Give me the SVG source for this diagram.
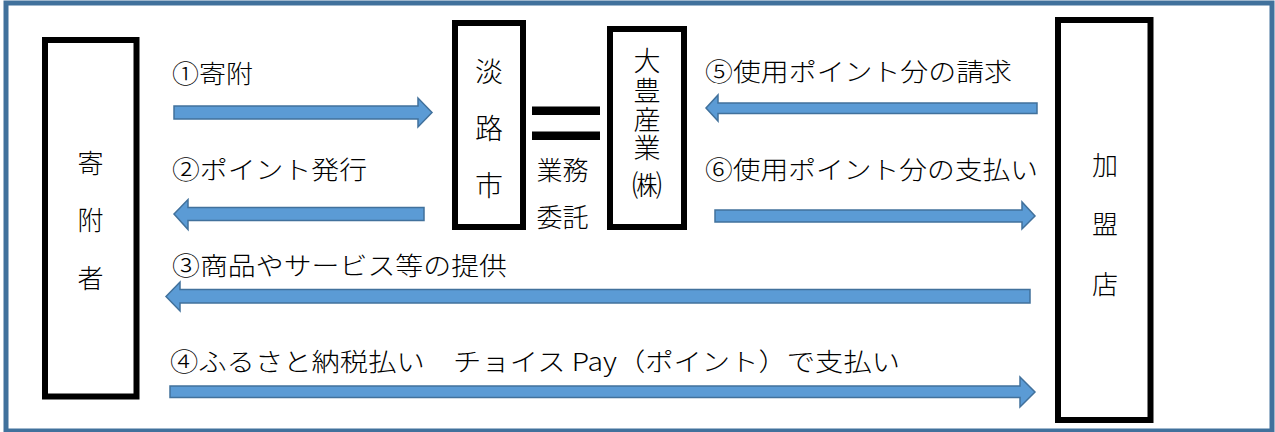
<svg xmlns="http://www.w3.org/2000/svg" width="1275" height="432" viewBox="0 0 1275 432">
<style>
.box{fill:#fff;stroke:#000;stroke-width:6}
.arr{fill:#5B9BD5;stroke:#41719C;stroke-width:1.5;stroke-linejoin:miter}
.t{font-family:"Noto Sans CJK JP","Noto Sans",sans-serif;font-size:25px;font-weight:300;fill:#000;dominant-baseline:central}
.n{font-family:"Noto Sans CJK JP","Noto Sans",sans-serif;font-size:26px;font-weight:300;fill:#000;text-anchor:middle;dominant-baseline:central}
.v{font-family:"Noto Sans CJK JP","Noto Sans",sans-serif;font-size:27px;font-weight:300;fill:#000;writing-mode:vertical-rl;text-anchor:middle}
</style>
<rect x="0" y="0" width="1275" height="432" fill="#fff"/>
<rect x="6" y="3" width="1266" height="428" fill="none" stroke="#41719C" stroke-width="5"/>

<g id="kifusha">
<rect class="box" x="45" y="40" width="91.5" height="356.5"/>
<text class="n" x="90.5" y="161">寄</text>
<text class="n" x="90.5" y="218">附</text>
<text class="n" x="90.5" y="276">者</text>
</g>

<g id="awajishi">
<rect class="box" x="455" y="23" width="68" height="204"/>
<text class="n" x="489" y="70" style="font-size:28px">淡</text>
<text class="n" x="489" y="127" style="font-size:28px">路</text>
<text class="n" x="489" y="184" style="font-size:28px">市</text>
</g>

<g id="equal">
<rect x="532" y="106.5" width="68" height="8.5" fill="#000"/>
<rect x="532" y="131.5" width="68" height="8.5" fill="#000"/>
<text class="n" x="562.5" y="168">業務</text>
<text class="n" x="562.5" y="215">委託</text>
</g>

<g id="daihousangyou">
<rect class="box" x="610" y="29" width="74" height="198"/>
<text class="v" x="647" y="61">大</text>
<text class="v" x="647" y="91">豊</text>
<text class="v" x="647" y="119.5">産</text>
<text class="v" x="647" y="147.5">業</text>
<text class="v" x="647" y="185" style="font-size:30px">㈱</text>
</g>

<g id="kameiten">
<rect class="box" x="1058" y="20" width="92.5" height="400"/>
<text class="n" x="1105" y="163">加</text>
<text class="n" x="1105" y="222">盟</text>
<text class="n" x="1105" y="282">店</text>
</g>

<g id="connectors">
<polygon class="arr" points="174,106 418,106 418,98 432,112.5 418,127 418,119 174,119"/>
<polygon class="arr" points="424,207.5 188,207.5 188,199.5 174,214 188,229.5 188,220.5 424,220.5"/>
<polygon class="arr" points="1030,289.5 180,289.5 180,282 166,296.5 180,311 180,303 1030,303"/>
<polygon class="arr" points="170,386 1020,386 1020,377 1035,392 1020,407 1020,397.5 170,397.5"/>
<polygon class="arr" points="1037,103 718,103 718,95 706,108 718,121 718,113.5 1037,113.5"/>
<polygon class="arr" points="715,210 1022,210 1022,202 1035,216 1022,229 1022,222 715,222"/>
</g>

<g id="labels">
<text class="t" x="172" y="72" textLength="81" lengthAdjust="spacingAndGlyphs">①寄附</text>
<text class="t" x="172" y="168" textLength="195" lengthAdjust="spacingAndGlyphs">②ポイント発行</text>
<text class="t" x="172" y="264" textLength="335" lengthAdjust="spacingAndGlyphs">③商品やサービス等の提供</text>
<text class="t" x="170" y="360" textLength="730" lengthAdjust="spacingAndGlyphs">④ふるさと納税払い　チョイス Pay（ポイント）で支払い</text>
<text class="t" x="705" y="70" textLength="307" lengthAdjust="spacingAndGlyphs">⑤使用ポイント分の請求</text>
<text class="t" x="705" y="168" textLength="333" lengthAdjust="spacingAndGlyphs">⑥使用ポイント分の支払い</text>
</g>
</svg>
